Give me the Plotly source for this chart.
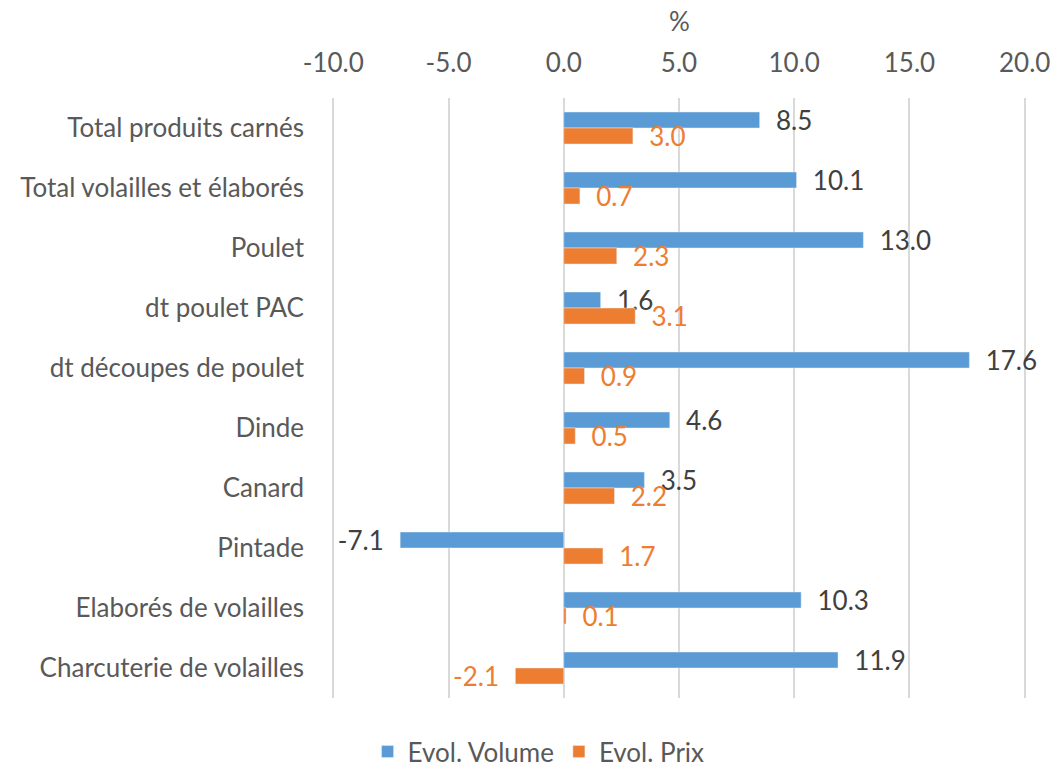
import plotly.graph_objects as go

categories = ["Total produits carnés", "Total volailles et élaborés", "Poulet", "dt poulet PAC",
              "dt découpes de poulet", "Dinde", "Canard", "Pintade", "Elaborés de volailles",
              "Charcuterie de volailles"]
volume = [8.5, 10.1, 13.0, 1.6, 17.6, 4.6, 3.5, -7.1, 10.3, 11.9]
prix = [3.0, 0.7, 2.3, 3.1, 0.9, 0.5, 2.2, 1.7, 0.1, -2.1]
x_ticks = [-10, -5, 0, 5, 10, 15, 20]
x_tick_labels = ["-10.0", "-5.0", "0.0", "5.0", "10.0", "15.0", "20.0"]
x_title = "%"

NB = "\u00a0"

def labels(vals):
    return [(NB * 2 + f"{v:.1f}") if v >= 0 else (f"{v:.1f}" + NB * 2) for v in vals]

FONT = "Lato, Carlito, Calibri, sans-serif"
FS = 26

fig = go.Figure()
fig.add_trace(go.Bar(
    y=categories, x=volume, orientation="h", name="Evol. Volume",
    marker=dict(color="#5B9BD5"),
    text=labels(volume), textposition="outside", constraintext="none", cliponaxis=False,
    textfont=dict(color="#404040", size=FS, family=FONT),
))
fig.add_trace(go.Bar(
    y=categories, x=prix, orientation="h", name="Evol. Prix",
    marker=dict(color="#ED7D31"),
    text=labels(prix), textposition="outside", constraintext="none", cliponaxis=False,
    textfont=dict(color="#ED7D31", size=FS, family=FONT),
))

fig.add_annotation(
    text=x_title, xref="paper", yref="paper", x=0.5, y=1.128,
    xanchor="center", yanchor="middle", showarrow=False,
    font=dict(size=FS, color="#595959", family=FONT),
)

fig.update_layout(
    width=1056, height=767,
    paper_bgcolor="white", plot_bgcolor="white",
    barmode="group", bargap=0.467, bargroupgap=0,
    margin=dict(l=331, r=29, t=98, b=69, autoexpand=False),
    font=dict(family=FONT, size=FS, color="#595959"),
    xaxis=dict(
        side="top", range=[-10.1, 20.1], tickvals=x_ticks, ticktext=x_tick_labels,
        showgrid=True, gridcolor="#D9D9D9", gridwidth=1.5,
        zeroline=True, zerolinecolor="#D9D9D9", zerolinewidth=1.5,
        showline=False, ticks="", ticklabelstandoff=20, automargin=False,
        tickfont=dict(size=FS, color="#595959"),
    ),
    yaxis=dict(
        autorange="reversed", showgrid=False, showline=False, ticks="",
        tickfont=dict(size=FS, color="#595959"), ticklabelstandoff=26, automargin=False,
    ),
    legend=dict(
        orientation="h", xref="container", yref="container",
        x=0.51, xanchor="center", y=0.02, yanchor="middle",
        font=dict(size=FS, color="#595959"), traceorder="normal",
    ),
)

fig.write_html("out.html", config={"displayModeBar": False},
               post_script="document.body.style.margin='0';")
